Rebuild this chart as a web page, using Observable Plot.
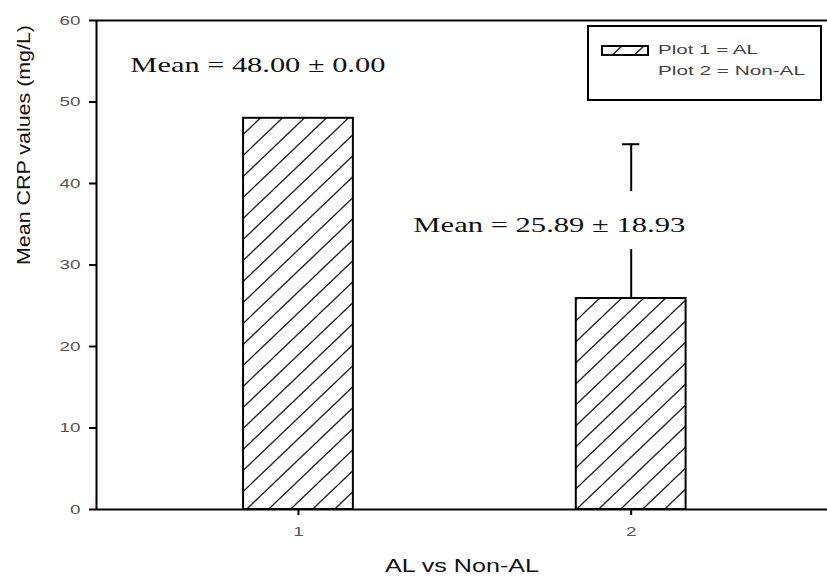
<!DOCTYPE html>
<html><head><meta charset="utf-8">
<script src="https://cdn.jsdelivr.net/npm/d3@7"></script>
<script src="https://cdn.jsdelivr.net/npm/@observablehq/plot@0.6"></script>
<style>
html,body{margin:0;padding:0;background:#fff;overflow:hidden;}
#chart{width:827px;height:583px;}
</style></head><body><div id="chart"></div>
<script>
// ---- data ----
const categories = [1, 2];
const groupNames = ["AL", "Non-AL"];
const means = [48.00, 25.89];
const sds = [0.00, 18.93];
const yTicks = [0, 10, 20, 30, 40, 50, 60];
const xTicks = [1, 2];
const xTitle = "AL vs Non-AL";
const yTitle = "Mean CRP values (mg/L)";
const legendLabels = ["Plot 1 = AL", "Plot 2 = Non-AL"];

// ---- derived table ----
const bars = categories.map((c, i) => ({
  cat: c, name: groupNames[i], mean: means[i], sd: sds[i],
  label: `Mean = ${means[i].toFixed(2)} \u00b1 ${sds[i].toFixed(2)}`
}));
const errBars = bars.filter(d => d.sd > 0);

// layout helpers
const xDomain = [0.393, 2.59];
const halfWidth = 0.165;
const capHalf = 0.026;
const annotX = [0.878, 1.754];
const annotY = [54.5, 34.9];

const serif = "'Liberation Serif', 'Times New Roman', serif";
const sans = "'Liberation Sans', Arial, sans-serif";

const plot = Plot.plot({
  width: 827, height: 583,
  marginLeft: 96, marginRight: 0, marginTop: 20, marginBottom: 74,
  style: {fontFamily: sans, fontSize: "13px", color: "#000", background: "#fff"},
  x: {domain: xDomain, ticks: xTicks, tickSize: 6, tickPadding: 11, tickFormat: d => String(d), label: null},
  y: {domain: [0, 60], ticks: yTicks, tickSize: 7, tickPadding: 9, label: null},
  marks: [
    Plot.rect(bars, {x1: d => d.cat - halfWidth, x2: d => d.cat + halfWidth, y1: 0, y2: "mean",
      fill: "url(#hatch)", stroke: "#000", strokeWidth: 2}),
    Plot.ruleX(errBars, {x: "cat", y1: "mean", y2: d => d.mean + d.sd, stroke: "#000", strokeWidth: 2}),
    Plot.ruleY(errBars, {y: d => d.mean + d.sd, x1: d => d.cat - capHalf, x2: d => d.cat + capHalf, stroke: "#000", strokeWidth: 2}),
    Plot.ruleY([0, 60], {stroke: "#000", strokeWidth: 2}),
    Plot.ruleX([xDomain[0]], {stroke: "#000", strokeWidth: 2}),
    Plot.text(bars, {x: (d, i) => annotX[i], y: (d, i) => annotY[i], text: "label",
      fontFamily: serif, fontSize: 22, fill: "#111", textAnchor: "middle", className: "annot"}),
    Plot.text([xTitle], {text: d => d, frameAnchor: "bottom", dy: 62, fontSize: 19, fill: "#111", className: "xtitle"}),
    Plot.text([yTitle], {text: d => d, frameAnchor: "left", dx: -72, rotate: -90, fontSize: 18, fill: "#111", className: "ytitle"})
  ]
});

document.getElementById("chart").appendChild(plot);
const svg = d3.select(plot);

// hatch pattern
const defs = svg.insert("defs", ":first-child");
const pat = defs.append("pattern").attr("id", "hatch").attr("patternUnits", "userSpaceOnUse")
  .attr("x", 10).attr("y", 0).attr("width", 22).attr("height", 21);
pat.append("rect").attr("width", 22).attr("height", 21).attr("fill", "#fff");
pat.append("path").attr("d", "M-1,1 L1,-1 M0,21 L22,0 M21,22 L23,20")
  .attr("stroke", "#222").attr("stroke-width", 1.3).attr("fill", "none");

// stretch helper
function stretch(node, len) {
  node.setAttribute("textLength", len);
  node.setAttribute("lengthAdjust", "spacingAndGlyphs");
}

// axis styling
svg.selectAll('g[aria-label$="tick"] path, g[aria-label$="tick"] line').attr("stroke-width", 2).attr("stroke", "#000");
svg.selectAll('g[aria-label$="tick label"]').attr("fill", "#555");
svg.selectAll('g[aria-label$="tick label"] text').each(function() {
  stretch(this, this.getComputedTextLength() * 1.45);
});

// titles
svg.selectAll("g.xtitle text").each(function() { stretch(this, 154); });
svg.selectAll("g.ytitle text").each(function() { stretch(this, 240); });

// annotations
const annotLens = [255, 272];
svg.selectAll("g.annot text").each(function(d, i) {
  stretch(this, annotLens[i]);
  if (bars[i].sd > 0) {
    const b = this.getBBox();
    const t = this.getAttribute("transform");
    const r = document.createElementNS("http://www.w3.org/2000/svg", "rect");
    r.setAttribute("x", b.x - 2); r.setAttribute("y", b.y - 21);
    r.setAttribute("width", b.width + 4); r.setAttribute("height", b.height + 33);
    r.setAttribute("fill", "#fff");
    if (t) r.setAttribute("transform", t);
    this.parentNode.insertBefore(r, this);
  }
});

// legend
const lg = svg.append("g").attr("class", "legend").attr("text-anchor", "start");
lg.append("rect").attr("x", 588).attr("y", 26).attr("width", 233).attr("height", 74)
  .attr("fill", "#fff").attr("stroke", "#000").attr("stroke-width", 2);
lg.append("rect").attr("x", 602).attr("y", 46).attr("width", 46).attr("height", 9)
  .attr("fill", "url(#hatch)").attr("stroke", "#000").attr("stroke-width", 2);
const legLens = [100, 147];
legendLabels.forEach((t, i) => {
  const tx = lg.append("text").attr("x", 658).attr("y", 51 + i * 20.5)
    .attr("text-anchor", "start")
    .attr("dominant-baseline", "middle").attr("font-size", 12).attr("fill", "#444")
    .attr("font-family", sans).text(t);
  stretch(tx.node(), legLens[i]);
});
</script>
</body></html>
